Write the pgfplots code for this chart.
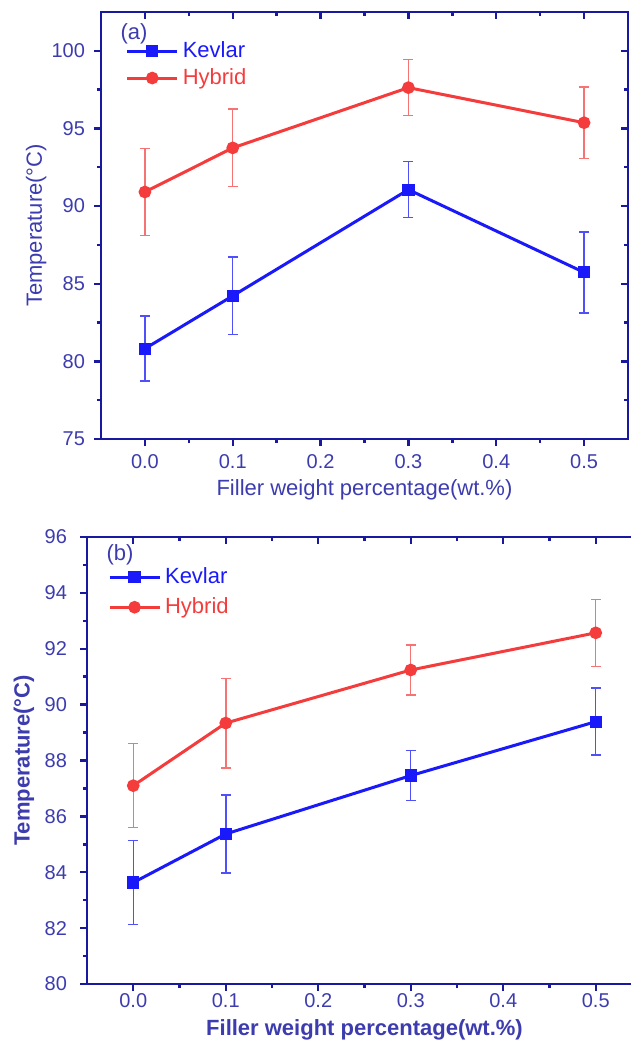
\documentclass[border=0pt]{standalone}
\usepackage{pgfplots}
\pgfplotsset{compat=1.18}
\usepackage{fontspec}
\setmainfont{Liberation Sans}
\definecolor{axc}{RGB}{25,25,160}
\definecolor{txc}{RGB}{60,60,175}
\definecolor{kev}{RGB}{25,25,250}
\definecolor{hyb}{RGB}{245,60,60}
\definecolor{keve}{RGB}{80,80,250}
\definecolor{hybe}{RGB}{245,115,115}
\pgfplotsset{
  frame/.style={
    scale only axis,
    xmin=-0.05, xmax=0.55,
    xtick={0,0.1,...,0.5}, minor x tick num=1,
    axis line style={axc, line width=1.4pt},
    every tick/.style={axc, line width=1.2pt},
    major tick length=3.5pt, minor tick length=2pt,
    /pgf/number format/assume math mode=true,
    tick label style={txc, font=\fontsize{10pt}{12pt}\selectfont},
    xticklabel style={/pgf/number format/fixed, /pgf/number format/fixed zerofill, /pgf/number format/precision=1},
  },
  mirror/.style={frame, xtick pos=right, ytick pos=right, tick align=inside,
    xticklabels={}, yticklabels={}},
  main/.style={frame, xtick pos=left, ytick pos=left, tick align=outside,
    legend style={draw=none, fill=none, inner sep=0pt, outer sep=0pt, anchor=north west,
      font=\fontsize{11pt}{13pt}\selectfont, legend cell align=left},
    legend image code/.code={\draw[mark repeat=2,mark phase=2,##1] plot coordinates {(0pt,0pt) (12.5pt,0pt) (25pt,0pt)};},
  },
  kevs/.style={kev, line width=1.5pt, mark=square*, mark size=2.3pt, mark options={solid},
    error bars/.cd, y dir=both, y explicit,
    error bar style={keve, line width=0.75pt},
    error mark options={keve, line width=0.75pt, rotate=90, mark size=2.5pt}},
  hybs/.style={hyb, line width=1.5pt, mark=*, mark size=2.4pt, mark options={solid},
    error bars/.cd, y dir=both, y explicit,
    error bar style={hybe, line width=0.75pt},
    error mark options={hybe, line width=0.75pt, rotate=90, mark size=2.5pt}},
}
\begin{document}
\begin{tikzpicture}
% ---------- panel (a) ----------
\begin{axis}[mirror, at={(50.5pt,-219.5pt)}, anchor=south west,
  width=263.5pt, height=213.5pt, ymin=75, ymax=102.5, ytick={75,80,...,100}, minor y tick num=1]
\end{axis}
\begin{axis}[main, at={(50.5pt,-219.5pt)}, anchor=south west,
  width=263.5pt, height=213.5pt, ymin=75, ymax=102.5, ytick={75,80,...,100}, minor y tick num=1,
  xticklabel style={anchor=center, yshift=-8pt},
  yticklabel style={anchor=east, xshift=-1pt},
  xlabel={Filler weight percentage(wt.\%)},
  ylabel={Temperature(°C)},
  label style={txc, font=\fontsize{11pt}{13pt}\selectfont},
  xlabel style={at={(axis description cs:0.5,-0.119)}, anchor=center},
  ylabel style={at={(axis description cs:-0.123,0.5)}, anchor=center},
  legend style={at={(axis description cs:0.047,0.94)}, row sep=0pt},
]
\addplot+[kevs] coordinates {(0,80.82) +- (0,2.1) (0.1,84.22) +- (0,2.5) (0.3,91.06) +- (0,1.8) (0.5,85.73) +- (0,2.6)};
\addlegendentry{\textcolor{kev}{Kevlar}}
\addplot+[hybs] coordinates {(0,90.91) +- (0,2.8) (0.1,93.75) +- (0,2.5) (0.3,97.63) +- (0,1.8) (0.5,95.37) +- (0,2.3)};
\addlegendentry{\textcolor{hyb}{Hybrid}}
\node[txc, font=\fontsize{11pt}{13pt}\selectfont] at (axis description cs:0.0626,0.95) {(a)};
\end{axis}
% ---------- panel (b) ----------
\begin{axis}[mirror, at={(43.5pt,-492pt)}, anchor=south west,
  width=277.5pt, height=223.5pt, ymin=80, ymax=96, ytick={80,82,...,96}, minor y tick num=1]
\end{axis}
\begin{axis}[main, at={(43.5pt,-492pt)}, anchor=south west,
  width=277.5pt, height=223.5pt, ymin=80, ymax=96, ytick={80,82,...,96}, minor y tick num=1,
  xticklabel style={anchor=center, yshift=-5pt},
  yticklabel style={anchor=east, xshift=-3pt},
  xlabel={\bfseries Filler weight percentage(wt.\%)},
  ylabel={\bfseries Temperature(°C)},
  label style={txc, font=\fontsize{11pt}{13pt}\selectfont},
  xlabel style={at={(axis description cs:0.5,-0.103)}, anchor=center},
  ylabel style={at={(axis description cs:-0.1135,0.5)}, anchor=center},
  legend style={at={(axis description cs:0.038,0.94)}, row sep=1.5pt},
]
\addplot+[kevs] coordinates {(0,83.63) +- (0,1.5) (0.1,85.37) +- (0,1.4) (0.3,87.46) +- (0,0.9) (0.5,89.39) +- (0,1.2)};
\addlegendentry{\textcolor{kev}{Kevlar}}
\addplot+[hybs] coordinates {(0,87.10) +- (0,1.5) (0.1,89.34) +- (0,1.6) (0.3,91.24) +- (0,0.9) (0.5,92.57) +- (0,1.2)};
\addlegendentry{\textcolor{hyb}{Hybrid}}
\node[txc, font=\fontsize{11pt}{13pt}\selectfont] at (axis description cs:0.0595,0.96) {(b)};
\end{axis}
\pgfresetboundingbox
\path[use as bounding box] (0pt,0pt) rectangle (315.5pt,-525pt);
\end{tikzpicture}
\end{document}
